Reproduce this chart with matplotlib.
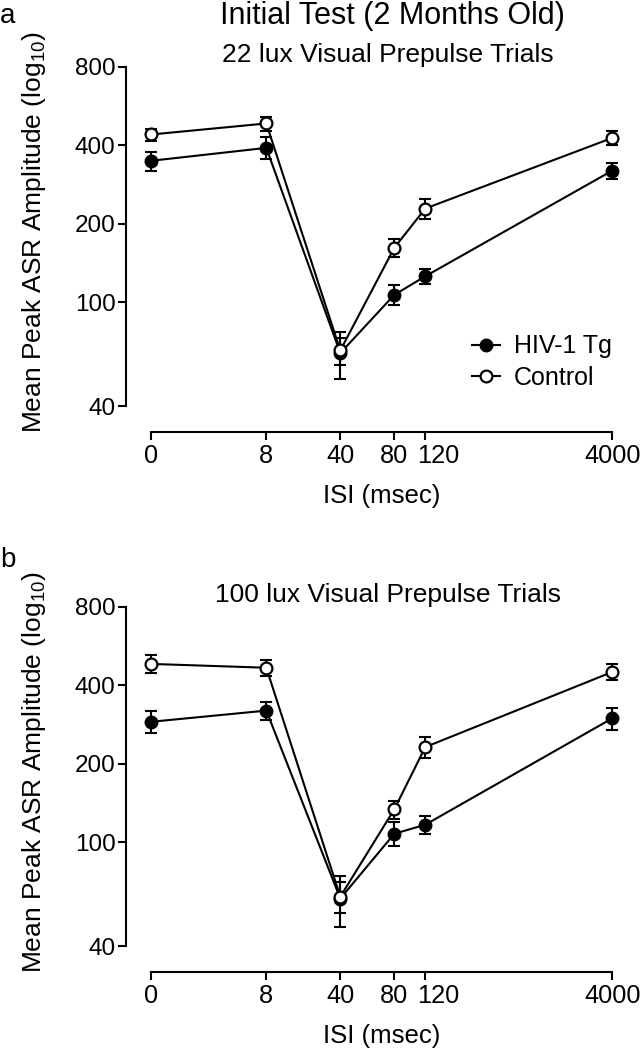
import numpy as np
import matplotlib
matplotlib.use('Agg')
import matplotlib.pyplot as plt
from matplotlib.ticker import FixedLocator, FixedFormatter, NullLocator
from matplotlib.transforms import ScaledTranslation

plt.rcParams['font.family'] = ['Liberation Sans', 'DejaVu Sans']
plt.rcParams['mathtext.default'] = 'regular'

# ISI categories (msec) and where each one sits along the x axis
isi_labels = ['0', '8', '40', '80', '120', '4000']
isi_pos = [0, 115, 189, 243, 274, 461]

# panel a: 22 lux visual prepulse
hiv_22 = [349, 391, 64, 107, 126, 320]
hiv_22_sem = [29, 38, 13, 9.4, 8.5, 22.6]
ctl_22 = [440, 485, 65.5, 162, 229, 427]
ctl_22_sem = [23, 30, 7.8, 12.5, 20, 26]

# panel b: 100 lux visual prepulse
hiv_100 = [290, 320, 61, 108, 117, 299]
hiv_100_sem = [28, 25, 13.7, 11.4, 9.6, 29.8]
ctl_100 = [483, 467, 62, 134, 232, 450]
ctl_100_sem = [38, 33, 8.5, 10.6, 21.5, 31.7]

y_ticks = [40, 100, 200, 400, 800]

W, H = 641, 1050
fig = plt.figure(figsize=(W / 100, H / 100), dpi=100)


def add_panel(top_px, hiv, hiv_sem, ctl, ctl_sem, subtitle, legend=False):
    left, right = 126, 626
    bottom = top_px + 365
    ax = fig.add_axes([left / W, 1 - bottom / H, (right - left) / W, (bottom - top_px) / H])
    ax.set_yscale('log')
    ax.set_ylim(32, 800)
    ax.set_xlim(-25.3, 474.7)

    ax.errorbar(isi_pos, hiv, yerr=hiv_sem, fmt='none', ecolor='k', elinewidth=1.5,
                capsize=4.6, capthick=1.5, clip_on=False, zorder=2)
    ax.plot(isi_pos, hiv, 'o-', color='k', mfc='k', mec='k', ms=8.5, mew=1.5, lw=1.5,
            clip_on=False, zorder=3, label='HIV-1 Tg')
    ax.errorbar(isi_pos, ctl, yerr=ctl_sem, fmt='none', ecolor='k', elinewidth=1.5,
                capsize=4.6, capthick=1.5, clip_on=False, zorder=4)
    ax.plot(isi_pos, ctl, 'o-', color='k', mfc='white', mec='k', ms=8.5, mew=1.6, lw=1.5,
            clip_on=False, zorder=5, label='Control')

    ax.yaxis.set_major_locator(FixedLocator(y_ticks))
    ax.yaxis.set_major_formatter(FixedFormatter([str(t) for t in y_ticks]))
    ax.yaxis.set_minor_locator(NullLocator())
    ax.set_xticks(isi_pos)
    ax.set_xticklabels(isi_labels)

    for s in ['top', 'right']:
        ax.spines[s].set_visible(False)
    ax.spines['left'].set_bounds(40, 800)
    ax.spines['bottom'].set_bounds(isi_pos[0], isi_pos[-1])
    for s in ['left', 'bottom']:
        ax.spines[s].set_linewidth(1.5)
    ax.tick_params(axis='both', direction='out', length=5.5, width=1.5, colors='k')
    ax.tick_params(axis='x', labelsize=18.3, pad=3.5)
    ax.tick_params(axis='y', labelsize=17.5, pad=2)

    # "120" label sits a little right of its tick so it does not run into "80"
    lab = ax.get_xticklabels()[4]
    lab.set_transform(lab.get_transform() + ScaledTranslation(0.13, 0, fig.dpi_scale_trans))

    fig.text(381.7 / W, 1 - (top_px + 436) / H, 'ISI (msec)', ha='center', va='baseline',
             fontsize=18.5)
    fig.text(34 / W, 1 - (top_px + 165) / H, 'Mean Peak ASR Amplitude (log$_{10}$)',
             rotation=90, ha='center', va='center', fontsize=19)
    fig.text(388 / W, 1 - (top_px - 5) / H, subtitle, ha='center', va='baseline', fontsize=19)

    if legend:
        ax.legend(loc='center left', bbox_to_anchor=(471.7 / W, 1 - 362 / H),
                  bbox_transform=fig.transFigure, frameon=False, fontsize=18,
                  handlelength=1.12, handletextpad=0.56, labelspacing=0.3,
                  borderpad=0, borderaxespad=0)
    return ax


add_panel(66.7, hiv_22, hiv_22_sem, ctl_22, ctl_22_sem,
          '22 lux Visual Prepulse Trials', legend=True)
add_panel(606.7, hiv_100, hiv_100_sem, ctl_100, ctl_100_sem,
          '100 lux Visual Prepulse Trials')

fig.text(392 / W, 1 - 24 / H, 'Initial Test (2 Months Old)', ha='center', va='baseline', fontsize=22)
fig.text(0 / W, 1 - 23 / H, 'a', ha='left', va='baseline', fontsize=20)
fig.text(0 / W, 1 - 566.7 / H, 'b', ha='left', va='baseline', fontsize=20)

fig.savefig('out.png', dpi=100)
